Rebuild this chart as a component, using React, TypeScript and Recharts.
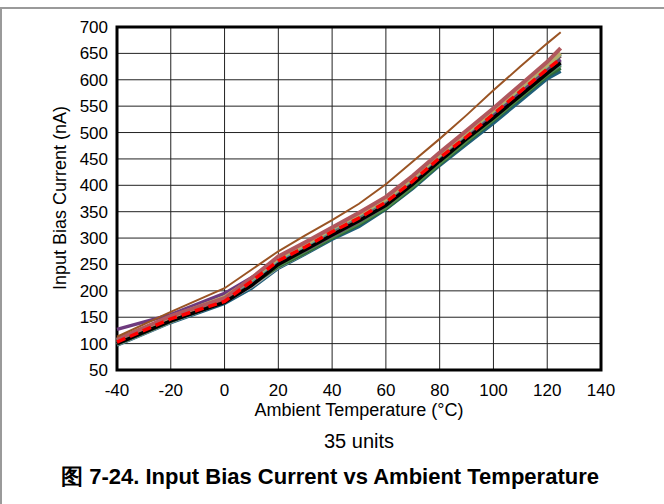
import React from 'react';
import { LineChart, Line, XAxis, YAxis, CartesianGrid, ReferenceArea } from 'recharts';

const temps = [-40, -20, 0, 10, 20, 30, 40, 50, 60, 70, 80, 90, 100, 110, 120, 125];

const unitTeal = [97, 140, 176, 205, 243, 270, 298, 322, 355, 394, 438, 478, 518, 560, 602, 616];
const unitLightGray = [98, 141, 179, 208, 245, 272, 301, 329, 359, 399, 443, 485, 526, 568, 610, 625];
const unitDarkGreen = [99, 142, 180, 212, 246, 272, 300, 326, 356, 396, 440, 482, 523, 565, 607, 622];
const unitGreen = [102, 145, 182, 215, 248, 275, 302, 328, 358, 398, 442, 484, 525, 567, 610, 628];
const unitSteel = [101, 144, 181, 214, 252, 279, 307, 334, 364, 404, 447, 489, 530, 572, 614, 630];
const unitGray = [104, 146, 184, 216, 254, 282, 310, 336, 366, 406, 450, 492, 533, 576, 618, 636];
const unitPurple = [127, 155, 195, 225, 255, 277, 305, 332, 362, 404, 448, 490, 532, 575, 618, 638];
const unitMaroon = [105, 149, 183, 220, 260, 286, 315, 342, 371, 411, 455, 497, 539, 582, 624, 645];
const unitCyan = [107, 151, 187, 219, 259, 285, 316, 343, 372, 412, 456, 498, 540, 583, 626, 648];
const unitOlive = [106, 150, 188, 222, 262, 288, 318, 345, 374, 414, 458, 500, 542, 585, 628, 650];
const unitRose = [108, 152, 186, 224, 265, 292, 320, 348, 378, 418, 462, 504, 546, 590, 634, 660];
const unitBlack = [100, 143, 178, 210, 250, 278, 306, 333, 362, 402, 446, 488, 528, 570, 612, 632];
const unitRed = [103, 147, 180, 218, 257, 283, 312, 338, 368, 408, 452, 492, 535, 578, 620, 640];
const unitBrown = [113, 160, 205, 240, 275, 305, 334, 365, 402, 445, 488, 533, 580, 625, 669, 690];

const xTicks = [-40, -20, 0, 20, 40, 60, 80, 100, 120, 140];
const yTicks = [50, 100, 150, 200, 250, 300, 350, 400, 450, 500, 550, 600, 650, 700];

// draw order: background bundle first, black / red / brown on top
const units = [
  { key: 'teal', values: unitTeal, color: '#1f5f7a', width: 3.5 },
  { key: 'lgray', values: unitLightGray, color: '#a6a6a6', width: 3.5 },
  { key: 'dgreen', values: unitDarkGreen, color: '#2f6b3a', width: 3.5 },
  { key: 'green', values: unitGreen, color: '#4f8a4a', width: 3.5 },
  { key: 'steel', values: unitSteel, color: '#5f8fa8', width: 3.5 },
  { key: 'gray', values: unitGray, color: '#808080', width: 3.5 },
  { key: 'purple', values: unitPurple, color: '#6e3a7e', width: 3.5 },
  { key: 'maroon', values: unitMaroon, color: '#7f3f3f', width: 3.5 },
  { key: 'cyan', values: unitCyan, color: '#4aa0a0', width: 3.5 },
  { key: 'olive', values: unitOlive, color: '#b8ac6a', width: 4 },
  { key: 'rose', values: unitRose, color: '#b0585e', width: 4 },
  { key: 'black', values: unitBlack, color: '#000000', width: 3.5 },
  { key: 'red', values: unitRed, color: '#ff0000', width: 3.5, dash: '9 5' },
  { key: 'brown', values: unitBrown, color: '#9a5424', width: 2 },
];

const data = temps.map((t, i) => {
  const row: any = { t };
  units.forEach(u => { row[u.key] = u.values[i]; });
  return row;
});

const font = '"Liberation Sans", Arial, sans-serif';

export default function App() {
  const tick = { fill: '#000', fontSize: 17, fontFamily: font };
  return (
    <div style={{ position: 'absolute', left: 0, top: 0, width: 664, height: 504, background: '#fff', fontFamily: font }}>
      <div style={{ position: 'absolute', left: 0, top: 7, width: 664, height: 2, background: '#9a9a9a' }} />
      <div style={{ position: 'absolute', left: 0, top: 7, width: 2, height: 497, background: '#9a9a9a' }} />

      <div style={{ position: 'absolute', left: 0, top: 0 }}>
        <LineChart width={664} height={504} data={data} margin={{ top: 27, right: 63, left: 0, bottom: 104 }}>
          <CartesianGrid stroke="#222" strokeWidth={1} />
          <XAxis
            dataKey="t"
            type="number"
            domain={[-40, 140]}
            ticks={xTicks}
            interval={0}
            height={30}
            tick={tick}
            tickLine={false}
            axisLine={false}
            tickMargin={8}
          />
          <YAxis
            type="number"
            domain={[50, 700]}
            ticks={yTicks}
            interval={0}
            width={117}
            tick={tick}
            tickLine={false}
            axisLine={false}
            tickMargin={3}
          />
          {units.map(u => (
            <Line
              key={u.key}
              dataKey={u.key}
              type="linear"
              stroke={u.color}
              strokeWidth={u.width}
              strokeDasharray={u.dash}
              dot={false}
              activeDot={false}
              isAnimationActive={false}
            />
          ))}
          <ReferenceArea x1={-40} x2={140} y1={50} y2={700} fill="none" stroke="#000" strokeWidth={3} ifOverflow="visible" />
        </LineChart>
      </div>

      <div style={{ position: 'absolute', left: 60, top: 198, transform: 'translate(-50%, -50%) rotate(-90deg)', whiteSpace: 'nowrap', fontSize: 18 }}>
        Input Bias Current (nA)
      </div>
      <div style={{ position: 'absolute', left: 359, top: 410, transform: 'translate(-50%, -50%)', whiteSpace: 'nowrap', fontSize: 18 }}>
        Ambient Temperature (°C)
      </div>
      <div style={{ position: 'absolute', left: 359, top: 441, transform: 'translate(-50%, -50%)', whiteSpace: 'nowrap', fontSize: 20 }}>
        35 units
      </div>
      <div style={{ position: 'absolute', left: 330, top: 477, transform: 'translate(-50%, -50%)', whiteSpace: 'nowrap', fontSize: 22, fontWeight: 'bold' }}>
        图 7-24. Input Bias Current vs Ambient Temperature
      </div>
    </div>
  );
}
